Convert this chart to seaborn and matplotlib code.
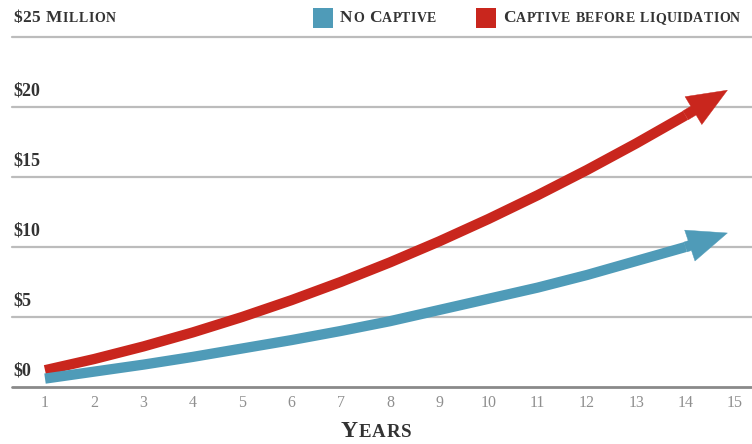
import matplotlib
matplotlib.use("Agg")
import matplotlib.pyplot as plt
from matplotlib.offsetbox import TextArea, HPacker, AnnotationBbox
from matplotlib.patches import Rectangle, ArrowStyle
from matplotlib.transforms import blended_transform_factory
import seaborn as sns
import pandas as pd

# Growth of the two strategies, in $ million, at the end of each year
years = list(range(1, 15))
no_captive = [0.6, 1.1, 1.6, 2.15, 2.75, 3.35, 4.0, 4.7, 5.5, 6.3, 7.1, 8.0, 9.0, 10.0]
captive = [1.2, 2.0, 2.9, 3.9, 5.0, 6.2, 7.5, 8.9, 10.4, 12.0, 13.7, 15.5, 17.4, 19.4]

# where each arrow points to
arrow_tip_year = 14.85
no_captive_tip = 11.0
captive_tip = 21.2

series_names = ["No Captive", "Captive before liquidation"]
y_ticks = [0, 5, 10, 15, 20]
y_tick_labels = ["$0", "$5", "$10", "$15", "$20"]
y_top = 25
y_top_label = "$25 Million"
x_ticks = list(range(1, 16))
x_title = "Years"

BLUE = "#4f9bb8"
RED = "#c9261d"
TEXT = "#333333"
SERIF = ["Liberation Serif", "DejaVu Serif"]

sns.set_theme(style="white")
plt.rcParams["font.family"] = SERIF

df = pd.DataFrame({
    "year": years * 2,
    "value": no_captive + captive,
    "series": [series_names[0]] * len(years) + [series_names[1]] * len(years),
})

fig = plt.figure(figsize=(7.52, 4.44), dpi=100)
W, H = 752, 444
ax = fig.add_axes([12 / W, 57 / H, 740 / W, 350 / H])
ax.set_xlim(0.33, 15.35)
ax.set_ylim(0, y_top)
for s in ax.spines.values():
    s.set_visible(False)

# horizontal guides
for v in y_ticks[1:] + [y_top]:
    ax.axhline(v, color="#bcbcbc", lw=1.6, zorder=1, clip_on=False)
ax.axhline(0, color="#8a8a8a", lw=2.0, zorder=1, clip_on=False)
ax.set_yticks(y_ticks + [y_top])
ax.set_yticklabels([])
ax.tick_params(axis="y", length=3, width=1, color="#999999", direction="out", pad=0)

ax.set_xticks(x_ticks)
ax.set_xticklabels([str(x) for x in x_ticks], color="#8f8f8f", fontsize=11.5)
ax.tick_params(axis="x", length=0, pad=6)

LW = 7.4
sns.lineplot(data=df, x="year", y="value", hue="series",
             hue_order=[series_names[1], series_names[0]],
             palette={series_names[0]: BLUE, series_names[1]: RED},
             lw=LW, legend=False, ax=ax, zorder=3,
             solid_capstyle="butt", solid_joinstyle="round")
ax.set_xlabel("")
ax.set_ylabel("")

# arrow heads at the end of each curve: a filled tail continuing the line plus the head
MS = 30
head = ArrowStyle("simple", head_length=0.95, head_width=0.78, tail_width=LW / MS)
for vals, tip, col in [(no_captive, no_captive_tip, BLUE), (captive, captive_tip, RED)]:
    ax.annotate("", xy=(arrow_tip_year, tip), xytext=(years[-1], vals[-1]),
                arrowprops=dict(arrowstyle=head, mutation_scale=MS, fc=col, ec=col,
                                lw=0.3, shrinkA=0, shrinkB=0),
                zorder=4, annotation_clip=False)

# value labels sitting above the guides
trans = blended_transform_factory(fig.transFigure, ax.transData)
for v, lab in zip(y_ticks, y_tick_labels):
    ax.annotate(lab, xy=(13 / W, v), xycoords=trans, xytext=(0, 8.6),
                textcoords="offset points", ha="left", va="baseline",
                fontsize=13, color=TEXT, fontweight="bold")


def small_caps(text, size, color, weight="bold", spacing=1.0):
    parts = []
    for ch in text:
        if ch.islower():
            parts.append(TextArea(ch.upper(), textprops=dict(size=size * 0.8, color=color,
                                                             family=SERIF, weight=weight)))
        else:
            parts.append(TextArea(ch, textprops=dict(size=size, color=color,
                                                     family=SERIF, weight=weight)))
    return HPacker(children=parts, sep=spacing, pad=0, align="baseline")


def place(box, x, y, align=(0, 0.5)):
    ab = AnnotationBbox(box, (x / W, 1 - y / H), xycoords="figure fraction",
                        box_alignment=align, frameon=False, pad=0)
    fig.add_artist(ab)


place(small_caps(y_top_label, 12.5, TEXT, spacing=0.4), 13, 18)
place(small_caps(x_title, 17, TEXT, spacing=0.6), 376, 431, align=(0.5, 0.5))

# legend
for x0, col, name in [(313, BLUE, series_names[0]), (476, RED, series_names[1])]:
    fig.add_artist(Rectangle((x0 / W, 1 - 28 / H), 20 / W, 20 / H,
                             transform=fig.transFigure, color=col, lw=0))
    place(small_caps(name, 12.5, TEXT, spacing=0.3), x0 + 27, 18)

fig.savefig("out.png", dpi=100)
